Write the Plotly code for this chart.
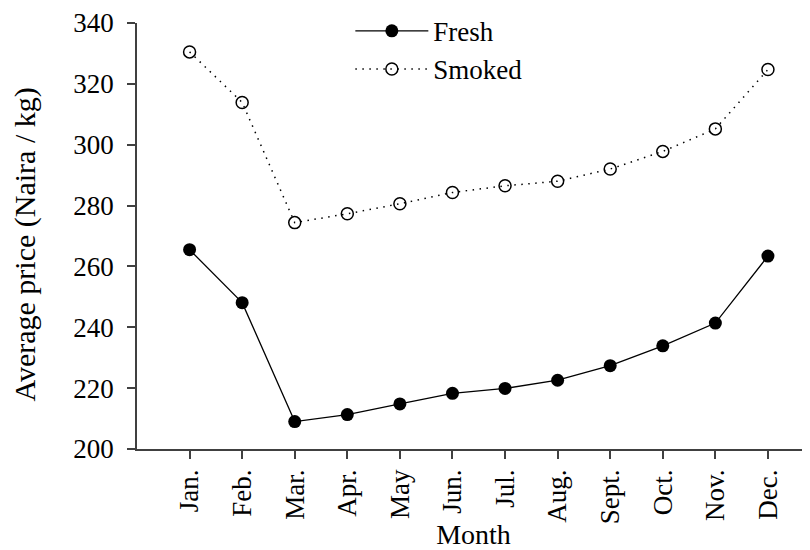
import plotly.graph_objects as go

months = ["Jan.", "Feb.", "Mar.", "Apr.", "May", "Jun.", "Jul.", "Aug.", "Sept.", "Oct.", "Nov.", "Dec."]
fresh = [265.5, 248.1, 209.0, 211.3, 214.8, 218.3, 219.9, 222.6, 227.4, 233.9, 241.4, 263.4]
smoked = [330.5, 313.9, 274.4, 277.3, 280.6, 284.3, 286.5, 288.0, 292.0, 297.8, 305.2, 324.7]
y_ticks = [200, 220, 240, 260, 280, 300, 320, 340]

FONT = "Liberation Serif, Times New Roman, serif"
x_idx = list(range(len(months)))

fig = go.Figure()
fig.add_trace(go.Scatter(
    x=x_idx, y=fresh, name="Fresh", mode="lines+markers",
    line=dict(color="black", width=1.3),
    marker=dict(symbol="circle", size=13, color="black", line=dict(color="black", width=0)),
))
fig.add_trace(go.Scatter(
    x=x_idx, y=smoked, name="Smoked", mode="lines+markers",
    line=dict(color="black", width=1.5, dash="1.5px,5.5px"),
    marker=dict(symbol="circle-open", size=12, color="black", line=dict(color="black", width=1.5)),
))

fig.update_layout(
    width=802, height=542,
    margin=dict(l=129, r=0, t=15, b=101, autoexpand=False),
    paper_bgcolor="white", plot_bgcolor="white",
    font=dict(family=FONT, color="black", size=26),
    showlegend=True,
    legend=dict(
        x=0.317, y=1.038, xanchor="left", yanchor="top",
        bgcolor="rgba(0,0,0,0)", font=dict(size=27, family=FONT),
        itemwidth=73, tracegroupgap=0,
    ),
    xaxis=dict(
        range=[-1, 11.8],
        tickmode="array", tickvals=x_idx, ticktext=months,
        tickangle=-90,
        showline=True, linecolor="#404040", linewidth=1.5,
        ticks="outside", ticklen=8, tickwidth=1.5, tickcolor="#404040",
        showgrid=False, zeroline=False,
        tickfont=dict(size=27, family=FONT),
        title=dict(text="Month", font=dict(size=28, family=FONT), standoff=7),
    ),
    yaxis=dict(
        range=[200, 340],
        tickmode="array", tickvals=y_ticks,
        showline=True, linecolor="#404040", linewidth=1.5,
        ticks="outside", ticklen=8, tickwidth=1.5, tickcolor="#404040",
        showgrid=False, zeroline=False,
        tickfont=dict(size=27, family=FONT),
        ticklabelstandoff=8,
    ),
    annotations=[dict(
        text="Average price (Naira / kg)", xref="paper", yref="paper",
        x=-0.167, y=0.479, xanchor="center", yanchor="middle",
        textangle=-90, showarrow=False, font=dict(size=30, family=FONT),
    )],
)

fig.write_html("out.html")
